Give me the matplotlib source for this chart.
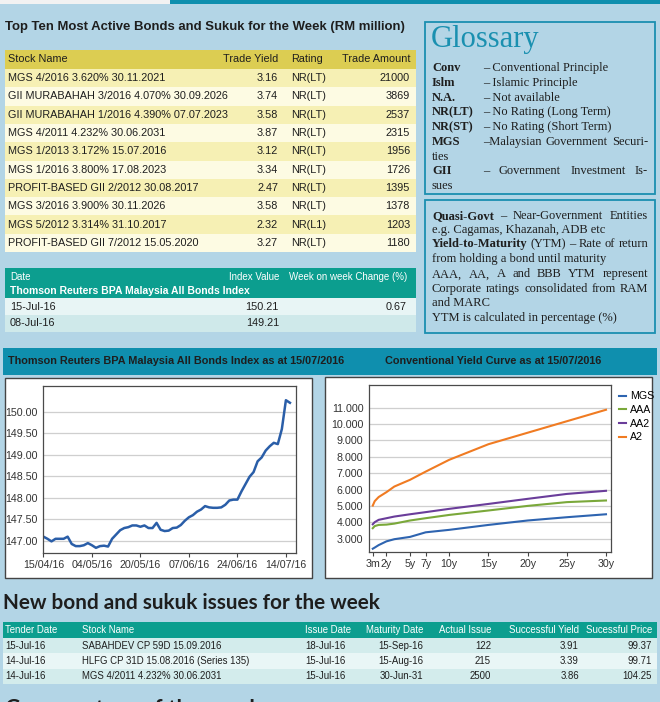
import matplotlib
matplotlib.use("Agg")
import matplotlib.pyplot as plt
from matplotlib.patches import Rectangle
from matplotlib.lines import Line2D

# ---- data ----
top_names = ["MGS 4/2016 3.620% 30.11.2021", "GII MURABAHAH 3/2016 4.070% 30.09.2026",
             "GII MURABAHAH 1/2016 4.390% 07.07.2023", "MGS 4/2011 4.232% 30.06.2031",
             "MGS 1/2013 3.172% 15.07.2016", "MGS 1/2016 3.800% 17.08.2023",
             "PROFIT-BASED GII 2/2012 30.08.2017", "MGS 3/2016 3.900% 30.11.2026",
             "MGS 5/2012 3.314% 31.10.2017", "PROFIT-BASED GII 7/2012 15.05.2020"]
top_yield = [3.16, 3.74, 3.58, 3.87, 3.12, 3.34, 2.47, 3.58, 2.32, 3.27]
top_rating = ["NR(LT)", "NR(LT)", "NR(LT)", "NR(LT)", "NR(LT)", "NR(LT)", "NR(LT)", "NR(LT)", "NR(L1)", "NR(LT)"]
top_amount = [21000, 3869, 2537, 2315, 1956, 1726, 1395, 1378, 1203, 1180]

index_dates = ["15-Jul-16", "08-Jul-16"]
index_values = [150.21, 149.21]
index_change = ["0.67", ""]

# all bonds index, one value per trading day 15/04/16 .. 15/07/16
abi_values = [147.10, 147.05, 146.99, 147.05, 147.05, 147.05, 147.10, 146.93, 146.88, 146.88,
              146.90, 146.95, 146.90, 146.84, 146.88, 146.89, 146.87, 147.05, 147.15, 147.25,
              147.30, 147.32, 147.36, 147.36, 147.33, 147.36, 147.30, 147.30, 147.42, 147.26,
              147.23, 147.24, 147.30, 147.31, 147.37, 147.47, 147.55, 147.60, 147.68, 147.73,
              147.81, 147.78, 147.77, 147.77, 147.78, 147.84, 147.94, 147.96, 147.96, 148.15,
              148.32, 148.49, 148.60, 148.85, 148.94, 149.10, 149.20, 149.28, 149.25, 149.60,
              150.27, 150.21]
abi_ticklabels = ["15/04/16", "04/05/16", "20/05/16", "07/06/16", "24/06/16", "14/07/16"]
abi_tick_step = 12

tenor_years = [0.25, 0.5, 1, 2, 3, 5, 7, 10, 15, 20, 25, 30]
mgs = [2.40, 2.47, 2.62, 2.85, 2.98, 3.12, 3.40, 3.55, 3.85, 4.12, 4.32, 4.50]
aaa = [3.65, 3.78, 3.85, 3.87, 3.93, 4.12, 4.26, 4.46, 4.73, 5.01, 5.24, 5.34]
aa2 = [3.89, 4.02, 4.16, 4.26, 4.36, 4.50, 4.63, 4.83, 5.13, 5.44, 5.74, 5.93]
a2 = [5.03, 5.30, 5.55, 5.85, 6.19, 6.60, 7.10, 7.82, 8.77, 9.47, 10.17, 10.87]
curve_names = ["MGS", "AAA", "AA2", "A2"]
tenor_ticks = [0.25, 2, 5, 7, 10, 15, 20, 25, 30]
tenor_ticklabels = ["3m", "2y", "5y", "7y", "10y", "15y", "20y", "25y", "30y"]

new_tender = ["15-Jul-16", "14-Jul-16", "14-Jul-16"]
new_stock = ["SABAHDEV CP 59D 15.09.2016", "HLFG CP 31D 15.08.2016 (Series 135)", "MGS 4/2011 4.232% 30.06.2031"]
new_issue = ["18-Jul-16", "15-Jul-16", "15-Jul-16"]
new_maturity = ["15-Sep-16", "15-Aug-16", "30-Jun-31"]
new_actual = [122, 215, 2500]
new_yield = [3.91, 3.39, 3.86]
new_price = [99.37, 99.71, 104.25]

# ---- look ----
BG = "#b3d5e6"
BAR = "#0f8fae"
TAB = "#0c9e8f"
DARK = "#1e1e1e"
CURVE_COLORS = ["#2e64b0", "#7aa83a", "#6a3d9a", "#f07b22"]

SANS = "Liberation Sans"
SERIF = "Liberation Serif"
TITLE = "Lato"

W, H = 660, 702
fig = plt.figure(figsize=(W / 100, H / 100), dpi=100)
fig.patch.set_facecolor(BG)
ax = fig.add_axes([0, 0, 1, 1])
ax.set_xlim(0, W)
ax.set_ylim(H, 0)
ax.axis("off")
renderer = fig.canvas.get_renderer()


def box(x0, y0, x1, y1, fc, ec="none", lw=0):
    ax.add_patch(Rectangle((x0, y0), x1 - x0, y1 - y0, facecolor=fc, edgecolor=ec, linewidth=lw))


def txt(x, y, s, size=8, ha="left", color=DARK, bold=False, family=None):
    return ax.text(x, y, s, fontsize=size, ha=ha, va="center", color=color,
                   fontweight="bold" if bold else "normal", family=family or SANS)


def fit(s, width, family=SANS, bold=False):
    # font size that makes s about `width` pixels wide (the page uses condensed type)
    t = txt(0, 0, s, size=10, bold=bold, family=family)
    w = t.get_window_extent(renderer).width
    t.remove()
    return 10 * width / w


def justify(x0, x1, y, words, size, family):
    items = [txt(0, y, w, size=size, bold=b, family=family) for w, b in words]
    widths = [t.get_window_extent(renderer).width for t in items]
    gap = (x1 - x0 - sum(widths)) / max(len(items) - 1, 1)
    x = x0
    for t, w in zip(items, widths):
        t.set_x(x)
        x += w + gap


def fig_rect(x0, y0, x1, y1):
    return [x0 / W, 1 - y1 / H, (x1 - x0) / W, (y1 - y0) / H]


# no condensed face installed, so go a bit wider than the page to keep the height
S_BODY = fit("MGS 4/2016 3.620% 30.11.2021", 126) * 1.25
S_SMALL = fit("SABAHDEV CP 59D 15.09.2016", 114) * 1.22
S_HEAD = fit("Thomson Reuters BPA Malaysia All Bonds Index", 240, bold=True)
S_TICK = fit("150.00", 27) * 1.2

# top strip
box(0, 0, 170, 4, "#f2f2f2")
box(170, 0, W, 4, BAR)

# ---- top ten table ----
title = "Top Ten Most Active Bonds and Sukuk for the Week (RM million)"
txt(5, 27, title, size=fit(title, 402, bold=True), bold=True)
box(5, 50, 416, 69, "#dccd52")
for lbl, x, ha in [("Stock Name", 8, "left"), ("Trade Yield", 278, "right"),
                   ("Rating", 291, "left"), ("Trade Amount", 410, "right")]:
    txt(x, 59.5, lbl, size=S_BODY, ha=ha)
rh = 18.3
for i in range(len(top_names)):
    y0 = 69 + i * rh
    box(5, y0, 416, y0 + rh, "#f6f0b4" if i % 2 == 0 else "#fdfbe3")
    yc = y0 + rh / 2
    txt(8, yc, top_names[i], size=S_BODY)
    txt(278, yc, f"{top_yield[i]:.2f}", size=S_BODY, ha="right")
    txt(291, yc, top_rating[i], size=S_BODY)
    txt(410, yc, str(top_amount[i]), size=S_BODY, ha="right")

# ---- index table ----
box(5, 268, 416, 298, TAB)
S_IDX = S_BODY * 0.9
txt(10, 277, "Date", size=S_IDX, color="white")
txt(279, 277, "Index Value", size=S_IDX, color="white", ha="right")
txt(407, 277, "Week on week Change (%)", size=S_IDX, color="white", ha="right")
txt(10, 291, "Thomson Reuters BPA Malaysia All Bonds Index", size=S_HEAD, color="white", bold=True)
for i in range(len(index_dates)):
    y0 = 298 + i * 17
    box(5, y0, 416, y0 + 17, "#e8f5f5" if i == 0 else "#cfe9ea")
    txt(10, y0 + 8.5, index_dates[i], size=S_BODY)
    txt(279, y0 + 8.5, f"{index_values[i]:.2f}", size=S_BODY, ha="right")
    txt(407, y0 + 8.5, index_change[i], size=S_BODY, ha="right")

# ---- glossary ----
box(425, 22, 655, 194, "none", ec="#1b8fb0", lw=1.3)
box(425, 200, 655, 333, "none", ec="#1b8fb0", lw=1.3)
txt(431, 40, "Glossary", size=22, color="#1a90b0", family=SERIF)
gl = [("Conv", "– Conventional Principle"), ("Islm", "– Islamic Principle"),
      ("N.A.", "– Not available"), ("NR(LT)", "– No Rating (Long Term)"),
      ("NR(ST)", "– No Rating (Short Term)")]
gy = 68.3
for term, desc in gl:
    txt(432, gy, term, size=9, bold=True, family=SERIF)
    txt(483, gy, desc, size=9, family=SERIF)
    gy += 14.7
txt(432, gy, "MGS", size=9, bold=True, family=SERIF)
justify(483, 648, gy, [("–Malaysian", False), ("Government", False), ("Securi-", False)], 9, SERIF)
txt(432, gy + 14.7, "ties", size=9, family=SERIF)
gy += 29.4
txt(432, gy, "GII", size=9, bold=True, family=SERIF)
justify(483, 648, gy, [("–", False), ("Government", False), ("Investment", False), ("Is-", False)], 9, SERIF)
txt(432, gy + 14.7, "sues", size=9, family=SERIF)

justify(432, 648, 215.7, [("Quasi-Govt", True), ("–", False), ("Near-Government", False), ("Entities", False)], 9, SERIF)
txt(432, 230, "e.g. Cagamas, Khazanah, ADB etc", size=9, family=SERIF)
justify(432, 648, 244.3, [("Yield-to-Maturity", True), ("(YTM)", False), ("–", False), ("Rate", False),
                          ("of", False), ("return", False)], 9, SERIF)
txt(432, 259, "from holding a bond until maturity", size=9, family=SERIF)
justify(432, 648, 274.3, [(w, False) for w in "AAA, AA, A and BBB YTM represent".split()], 9, SERIF)
justify(432, 648, 289, [(w, False) for w in "Corporate ratings consolidated from RAM".split()], 9, SERIF)
txt(432, 303.3, "and MARC", size=9, family=SERIF)
txt(432, 318.3, "YTM is calculated in percentage (%)", size=9, family=SERIF)

# ---- chart section ----
box(3, 348, 657, 375, BAR)
left_title = "Thomson Reuters BPA Malaysia All Bonds Index as at 15/07/2016"
S_BAR = fit(left_title, 335, bold=True)
txt(8, 361.5, left_title, size=S_BAR, bold=True)
txt(385, 361.5, "Conventional Yield Curve as at 15/07/2016", size=S_BAR, bold=True)
box(5, 378, 312, 578, "white", ec="#444444", lw=1)
box(325, 377, 652, 578, "white", ec="#444444", lw=1)

ax1 = fig.add_axes(fig_rect(43, 386, 296, 553))
ax1.plot(range(len(abi_values)), abi_values, color="#2a5ea8", lw=1.8)
ax1.set_xlim(-0.1, 62.5)
ax1.set_ylim(146.72, 150.6)
ax1.set_yticks([147 + 0.5 * k for k in range(7)])
ax1.set_yticklabels([f"{147 + 0.5 * k:.2f}" for k in range(7)])
ax1.set_xticks(range(0, len(abi_values), abi_tick_step))
ax1.set_xticklabels(abi_ticklabels)

ax2 = fig.add_axes(fig_rect(369, 385, 611, 552))
for vals, name, c in zip([mgs, aaa, aa2, a2], curve_names, CURVE_COLORS):
    ax2.plot(tenor_years, vals, color=c, lw=1.5, label=name)
ax2.set_xlim(-0.23, 30.64)
ax2.set_ylim(2.2, 12.38)
ax2.set_yticks(range(3, 12))
ax2.set_yticklabels([f"{v:.3f}" for v in range(3, 12)])
ax2.set_xticks(tenor_ticks)
ax2.set_xticklabels(tenor_ticklabels)

for a in (ax1, ax2):
    a.grid(axis="y", color="#cfcfcf", lw=0.9)
    a.set_axisbelow(True)
    a.tick_params(axis="y", length=0, pad=4)
    a.tick_params(axis="x", length=3, color="#444444", pad=2)
    a.tick_params(labelsize=S_TICK, labelcolor="#333333")
    for lab in a.get_xticklabels() + a.get_yticklabels():
        lab.set_family(SANS)
    for s in a.spines.values():
        s.set_color("#4a4a4a")
        s.set_linewidth(0.9)

handles = [Line2D([], [], color=c, lw=1.5) for c in CURVE_COLORS]
ax2.legend(handles, curve_names, loc="upper left", bbox_to_anchor=(614 / W, 1 - 386 / H),
           bbox_transform=fig.transFigure, frameon=False, handlelength=0.6, handletextpad=0.4,
           labelspacing=0.35, borderpad=0, prop={"family": SANS, "size": S_TICK})

# ---- new issues ----
new_title = "New bond and sukuk issues for the week"
S_BIG = fit(new_title, 380, family=TITLE, bold=True)
txt(3, 603, new_title, size=S_BIG, bold=True, family=TITLE)
box(3, 622, 657, 638, TAB)
heads = [("Tender Date", 5, "left"), ("Stock Name", 82, "left"), ("Issue Date", 305, "left"),
         ("Maturity Date", 423, "right"), ("Actual Issue", 491, "right"),
         ("Successful Yield", 579, "right"), ("Sucessful Price", 652, "right")]
for lbl, x, ha in heads:
    txt(x, 630, lbl, size=S_SMALL, color="white", ha=ha)
for i in range(len(new_tender)):
    y0 = 638 + i * 15.3
    box(3, y0, 657, y0 + 15.3, "#d3ecec" if i % 2 == 0 else "#e9f6f6")
    yc = y0 + 7.65
    cells = [new_tender[i], new_stock[i], new_issue[i], new_maturity[i], str(new_actual[i]),
             f"{new_yield[i]:.2f}", f"{new_price[i]:.2f}"]
    for (lbl, x, ha), s in zip(heads, cells):
        txt(x, yc, s, size=S_SMALL, ha=ha)

# next heading, cut by the page edge as in the print
txt(5, 709, "Commentary of the week", size=fit("Commentary of the week", 258, family=TITLE, bold=True),
    bold=True, family=TITLE)

fig.savefig("out.png", dpi=100, facecolor=BG)
